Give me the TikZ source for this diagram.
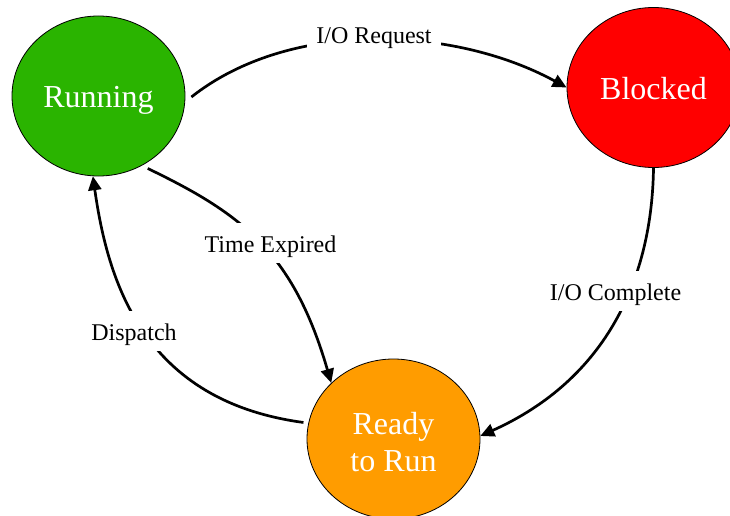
\documentclass[tikz,border=0pt]{standalone}
\usepackage{fontspec}
\setmainfont{Liberation Serif}
\usetikzlibrary{arrows.meta,shapes.geometric,calc}
\definecolor{rungreen}{RGB}{42,180,0}
\definecolor{blkred}{RGB}{255,0,0}
\definecolor{rdyorange}{RGB}{255,156,0}
\begin{document}
\begin{tikzpicture}[x=1pt,y=-1pt,
  state/.style={ellipse,draw=black,line width=0.8pt,minimum width=173pt,minimum height=160pt,
    inner sep=0pt,text=white,font=\fontsize{32}{37}\selectfont,align=center},
  conn/.style={line width=2.7pt,-{Triangle[length=14pt,width=13pt]}},
  lbl/.style={fill=white,font=\fontsize{24}{28}\selectfont,anchor=base,
    inner xsep=9pt,inner ysep=6pt,text height=23pt,text depth=5pt}]
\useasboundingbox (0,0) rectangle (730,516);
\clip (0,0) rectangle (730,516);
\fill[white] (0,0) rectangle (730,516);

\node[state,fill=rungreen,text height=24pt,text depth=0pt] (run) at (98.5,96) {Running};
\node[state,fill=blkred,text height=24pt,text depth=0pt] (blk) at (653.5,87.5) {Blocked};
\node[state,fill=rdyorange] (rdy) at (393.5,439) {\rule{0pt}{28pt}Ready\\to Run};

\coordinate (s1) at ($(run.east)+(6,1)$);
\coordinate (s3) at ($(run.-55)+(2,5)$);
\coordinate (s4) at ($(rdy.169)+(-5,0)$);

\draw[conn] (s1) .. controls (290,19) and (454,26) .. (blk.west);
\draw[conn] (blk.south) .. controls (652,278) and (607,379) .. (rdy.2);
\draw[conn] (s3) .. controls (240,213) and (293,251) .. (rdy.138);
\draw[conn] (s4) .. controls (144,401) and (108,283) .. (run.-94);

\node[lbl] (lreq) at (374,44) {I/O Request};
\node[lbl] (lexp) at (270.5,252) {Time Expired};
\node[lbl] (ldis) at (134,340) {Dispatch};
\node[lbl] (lcom) at (615.5,300) {I/O Complete};
\end{tikzpicture}
\end{document}
